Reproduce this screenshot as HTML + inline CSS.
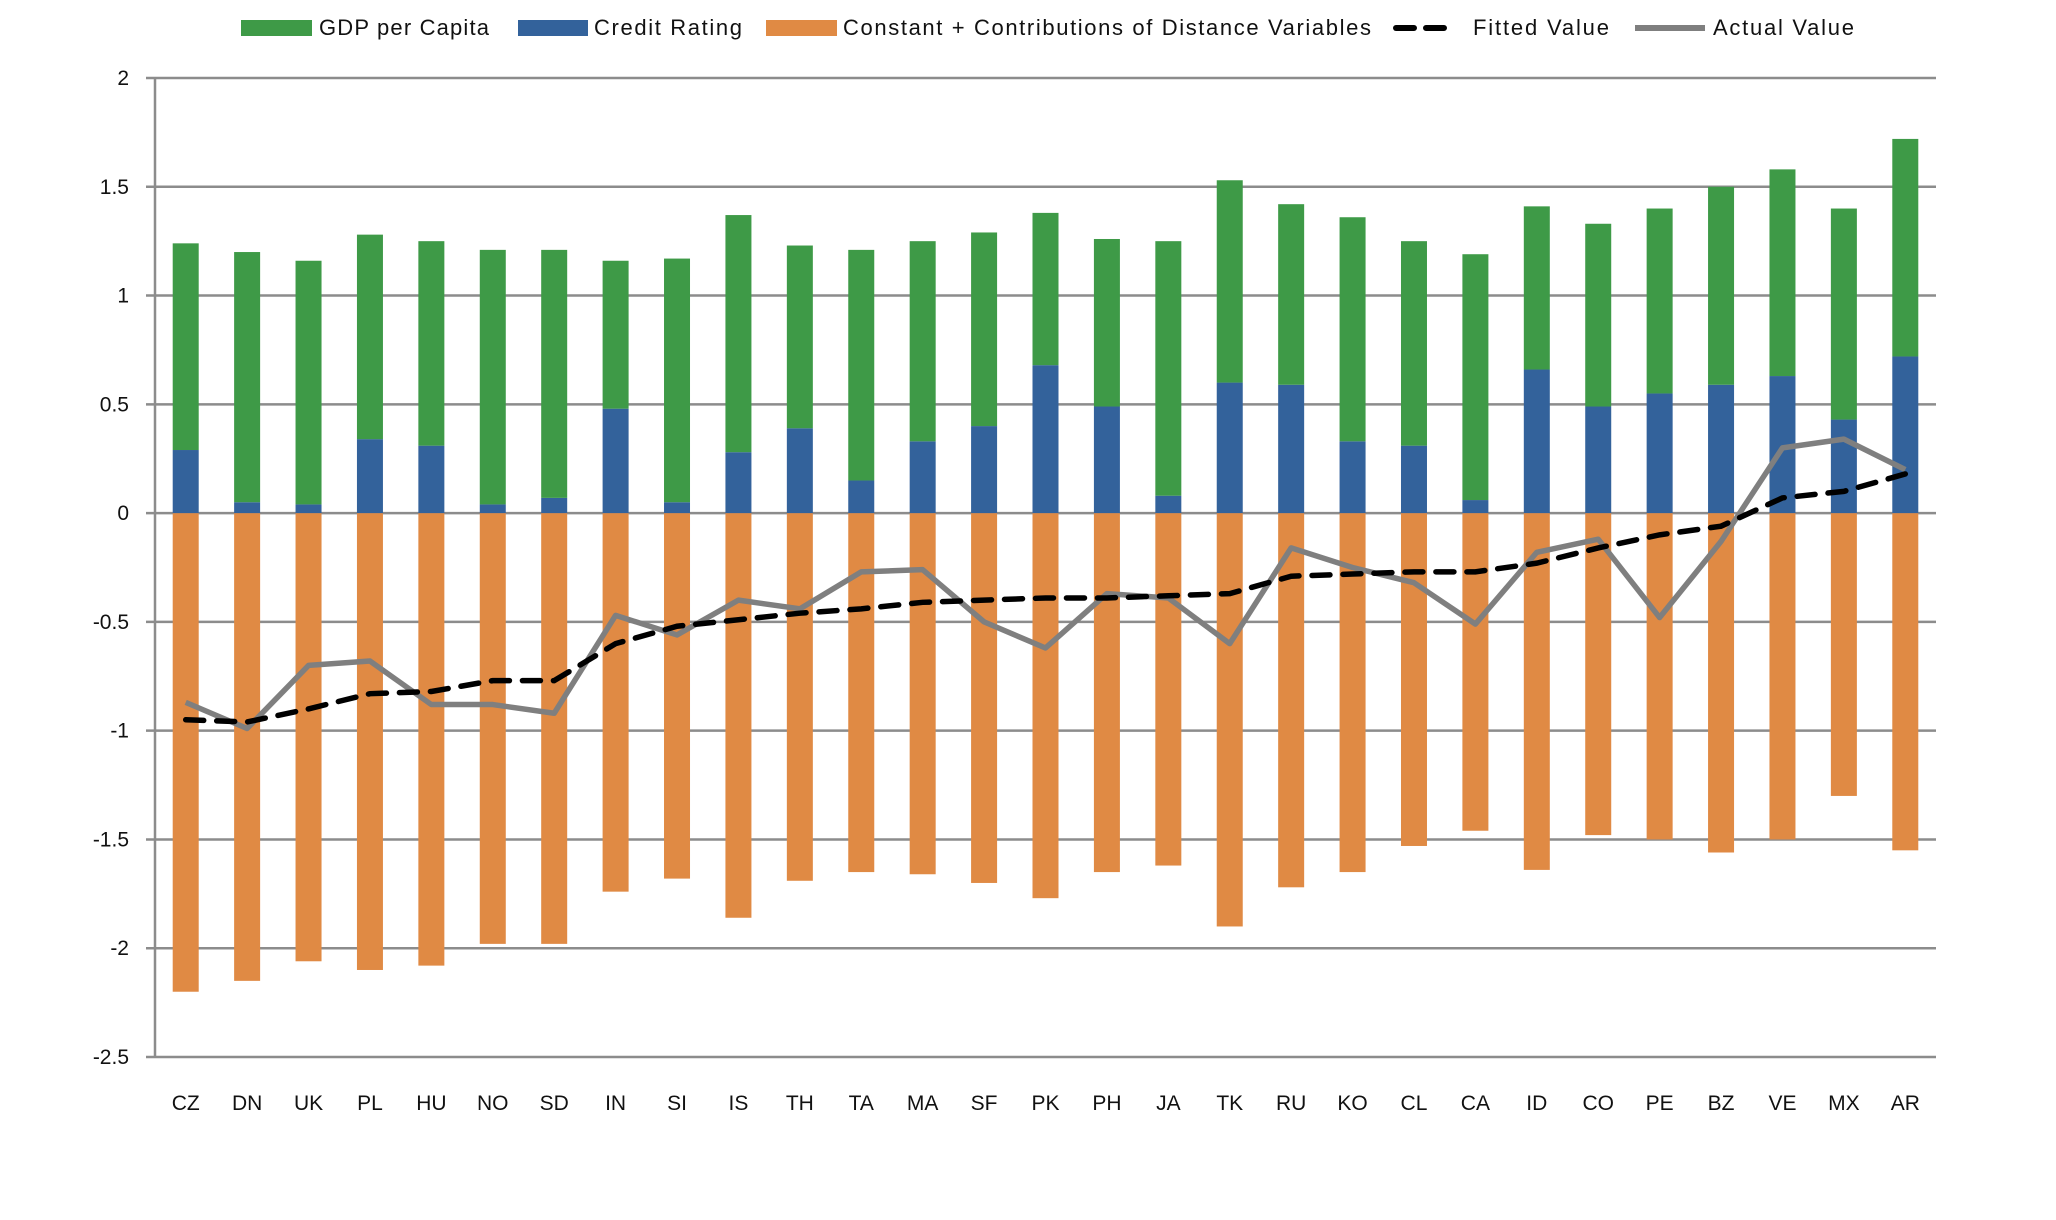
<!DOCTYPE html>
<html><head><meta charset="utf-8"><style>
html,body{margin:0;padding:0;background:#fff;}
svg{display:block;font-family:"Liberation Sans",sans-serif;}
</style></head><body>
<svg id="chart" width="2056" height="1220" viewBox="0 0 2056 1220">
<g id="legend">
 <g><rect x="241" y="20" width="71" height="16" fill="#3e9a47"/><text x="319" y="35" font-size="22" fill="#111" textLength="170">GDP per Capita</text></g>
 <g><rect x="518" y="20" width="70" height="16" fill="#33629b"/><text x="594" y="35" font-size="22" fill="#111" textLength="148">Credit Rating</text></g>
 <g><rect x="766" y="20" width="71" height="16" fill="#e08a44"/><text x="843" y="35" font-size="22" fill="#111" textLength="528">Constant + Contributions of Distance Variables</text></g>
 <g><line x1="1396" y1="28" x2="1456" y2="28" stroke="#000" stroke-width="6" stroke-dasharray="18,12" stroke-linecap="round"/><text x="1473" y="35" font-size="22" fill="#111" textLength="136">Fitted Value</text></g>
 <g><line x1="1635" y1="28" x2="1705" y2="28" stroke="#7f7f7f" stroke-width="6"/><text x="1713" y="35" font-size="22" fill="#111" textLength="141">Actual Value</text></g>
</g>
<g id="grid"></g>
<g id="bars"></g>
<g id="lines"></g>
<g id="xlabels"></g>
<g id="ylabels"></g>
</svg>
<script>
const categories = ["CZ","DN","UK","PL","HU","NO","SD","IN","SI","IS","TH","TA","MA","SF","PK","PH","JA","TK","RU","KO","CL","CA","ID","CO","PE","BZ","VE","MX","AR"];
const creditRating = [0.29,0.05,0.04,0.34,0.31,0.04,0.07,0.48,0.05,0.28,0.39,0.15,0.33,0.40,0.68,0.49,0.08,0.60,0.59,0.33,0.31,0.06,0.66,0.49,0.55,0.59,0.63,0.43,0.72];
const gdpPerCapita = [0.95,1.15,1.12,0.94,0.94,1.17,1.14,0.68,1.12,1.09,0.84,1.06,0.92,0.89,0.70,0.77,1.17,0.93,0.83,1.03,0.94,1.13,0.75,0.84,0.85,0.91,0.95,0.97,1.00];
const constantDist = [-2.2,-2.15,-2.06,-2.1,-2.08,-1.98,-1.98,-1.74,-1.68,-1.86,-1.69,-1.65,-1.66,-1.7,-1.77,-1.65,-1.62,-1.9,-1.72,-1.65,-1.53,-1.46,-1.64,-1.48,-1.5,-1.56,-1.5,-1.3,-1.55];
const fittedValue = [-0.95,-0.96,-0.9,-0.83,-0.82,-0.77,-0.77,-0.6,-0.52,-0.49,-0.46,-0.44,-0.41,-0.4,-0.39,-0.39,-0.38,-0.37,-0.29,-0.28,-0.27,-0.27,-0.23,-0.16,-0.1,-0.06,0.07,0.1,0.18];
const actualValue = [-0.87,-0.99,-0.7,-0.68,-0.88,-0.88,-0.92,-0.47,-0.56,-0.4,-0.44,-0.27,-0.26,-0.5,-0.62,-0.37,-0.39,-0.6,-0.16,-0.25,-0.32,-0.51,-0.18,-0.12,-0.48,-0.13,0.3,0.34,0.2];
const yTicks = [2,1.5,1,0.5,0,-0.5,-1,-1.5,-2,-2.5];

const NS="http://www.w3.org/2000/svg";
const L=155,R=1936,T=78,B=1057,yMax=2,yMin=-2.5;
const band=(R-L)/categories.length, bw=26;
const y=v=>T+(yMax-v)/(yMax-yMin)*(B-T);
const x=i=>L+band*(i+0.5);
function mk(tag,attrs,parent){const e=document.createElementNS(NS,tag);for(const k in attrs)e.setAttribute(k,attrs[k]);parent.appendChild(e);return e;}
const grid=document.getElementById('grid');
yTicks.forEach(t=>{
 const ln=mk('line',{x1:L-9,x2:R,y1:y(t),y2:y(t),stroke:'#8c8c8c','stroke-width':2.5},grid);
 
 
 const tx=mk('text',{x:L-26,y:y(t)+7,'text-anchor':'end','font-size':21,fill:'#111'},document.getElementById('ylabels'));
 tx.textContent=String(t);
 
 
});
const ax=mk('line',{x1:L,x2:L,y1:T,y2:B,stroke:'#8c8c8c','stroke-width':2.5},grid);


const bars=document.getElementById('bars');
categories.forEach((c,i)=>{
 const cx=x(i)-bw/2;
 const o=mk('rect',{x:cx,y:y(0),width:bw,height:y(constantDist[i])-y(0),fill:'#e08a44'},bars);
 
 
 const b=mk('rect',{x:cx,y:y(creditRating[i]),width:bw,height:y(0)-y(creditRating[i]),fill:'#33629b'},bars);
 
 
 const top=creditRating[i]+gdpPerCapita[i];
 const g=mk('rect',{x:cx,y:y(top),width:bw,height:y(creditRating[i])-y(top),fill:'#3e9a47'},bars);
 
 
 const t=mk('text',{x:x(i),y:1110,'text-anchor':'middle','font-size':21,fill:'#111'},document.getElementById('xlabels'));
 t.textContent=c;
 
 
});
const lines=document.getElementById('lines');
const act=mk('polyline',{points:actualValue.map((v,i)=>x(i)+','+y(v)).join(' '),fill:'none',stroke:'#7f7f7f','stroke-width':5.5,'stroke-linejoin':'round'},lines);


const fit=mk('polyline',{points:fittedValue.map((v,i)=>x(i)+','+y(v)).join(' '),fill:'none',stroke:'#000','stroke-width':5.5,'stroke-dasharray':'18,13','stroke-linecap':'round'},lines);


</script>
</body></html>
